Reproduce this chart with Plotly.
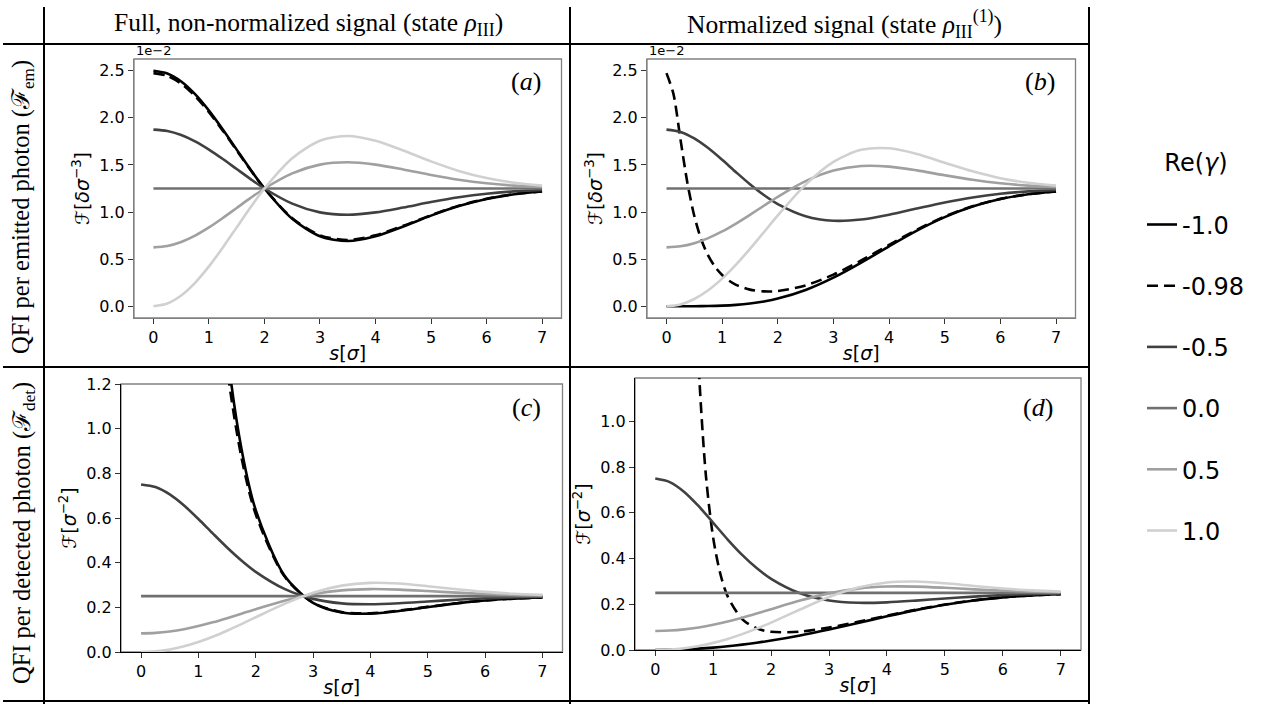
import plotly.graph_objects as go

# ---------------- data ----------------
S = [0, 0.25, 0.5, 0.75, 1, 1.25, 1.5, 1.75, 2, 2.5, 3, 3.5, 4, 4.5, 5, 5.5, 6, 6.5, 7]
S_FINE = [0, 0.125, 0.25, 0.375, 0.5, 0.625, 0.75, 0.875, 1, 1.125, 1.25, 1.5, 1.75, 2,
          2.5, 3, 3.5, 4, 4.5, 5, 5.5, 6, 6.5, 7]

GAMMA_LABELS = ["-1.0", "-0.98", "-0.5", "0.0", "0.5", "1.0"]

# (a) full signal, per emitted photon  [units of 1e-2]
A_m100 = [2.5, 2.4709, 2.3858, 2.2513, 2.0773, 1.8766, 1.6628, 1.4498, 1.25, 0.9281, 0.7427,
          0.6924, 0.7425, 0.8460, 0.9617, 1.0630, 1.1389, 1.1892, 1.2192]
A_m098 = [2.475, 2.4465, 2.3631, 2.2313, 2.0608, 1.8640, 1.6545, 1.4458, 1.25, 0.9345, 0.7529,
          0.7036, 0.7526, 0.8541, 0.9674, 1.0668, 1.1411, 1.1904, 1.2199]
A_m050 = [1.875, 1.8604, 1.8179, 1.7506, 1.6637, 1.5633, 1.4564, 1.3499, 1.25, 1.0890, 0.9964,
          0.9712, 0.9962, 1.0480, 1.1058, 1.1565, 1.1945, 1.2196, 1.2346]
A_000 = [1.25, 1.25, 1.25, 1.25, 1.25, 1.25, 1.25, 1.25, 1.25, 1.25, 1.25, 1.25, 1.25, 1.25,
         1.25, 1.25, 1.25, 1.25, 1.25]
A_p050 = [0.625, 0.6396, 0.6821, 0.7494, 0.8363, 0.9367, 1.0436, 1.1501, 1.25, 1.4110, 1.5036,
          1.5288, 1.5038, 1.4520, 1.3942, 1.3435, 1.3055, 1.2804, 1.2654]
A_p100 = [0.0, 0.0291, 0.1142, 0.2487, 0.4227, 0.6234, 0.8372, 1.0502, 1.25, 1.5719, 1.7573,
          1.8076, 1.7575, 1.6540, 1.5383, 1.4370, 1.3611, 1.3108, 1.2808]

# (b) normalized signal, per emitted photon  [units of 1e-2]
B_m100 = [0.0, 0.0000, 0.0004, 0.0020, 0.0061, 0.0144, 0.0287, 0.0505, 0.0813, 0.1730, 0.3038,
          0.4640, 0.6366, 0.8025, 0.9459, 1.0580, 1.1375, 1.1889, 1.2192]
B_m098 = [2.475, 2.2547, 1.7780, 1.3123, 0.9576, 0.7086, 0.5364, 0.4162, 0.3314, 0.2708, 0.2274,
          0.1762, 0.1572, 0.1611, 0.2214, 0.3353, 0.4854, 0.6512, 0.8123, 0.9523, 1.0619,
          1.1398, 1.1901, 1.2198]
B_m050 = [1.875, 1.8509, 1.7823, 1.6791, 1.5548, 1.4230, 1.2955, 1.1811, 1.0850, 0.9563, 0.9079,
          0.9210, 0.9717, 1.0376, 1.1020, 1.1553, 1.1941, 1.2195, 1.2346]
B_000 = [1.25, 1.25, 1.25, 1.25, 1.25, 1.25, 1.25, 1.25, 1.25, 1.25, 1.25, 1.25, 1.25, 1.25,
         1.25, 1.25, 1.25, 1.25, 1.25]
B_p050 = [0.625, 0.6363, 0.6697, 0.7233, 0.7941, 0.8782, 0.9709, 1.0671, 1.1618, 1.3277, 1.4399,
          1.4884, 1.4823, 1.4424, 1.3905, 1.3423, 1.3052, 1.2803, 1.2654]
B_p100 = [0.0, 0.0195, 0.0769, 0.1697, 0.2934, 0.4422, 0.6089, 0.7856, 0.9638, 1.2911, 1.5335,
          1.6604, 1.6768, 1.6169, 1.5239, 1.4322, 1.3597, 1.3105, 1.2807]

# (c) full signal, per detected photon
C_m100 = [None, None, None, None, None, 2.1154, 1.3565, 0.9116, 0.6354, 0.3424, 0.2200, 0.1767,
          0.1717, 0.1838, 0.2012, 0.2176, 0.2303, 0.2391, 0.2444]
C_m098 = [None, None, None, None, None, 1.9229, 1.2715, 0.8718, 0.6164, 0.3390, 0.2208, 0.1786,
          0.1735, 0.1853, 0.2022, 0.2182, 0.2307, 0.2393, 0.2445]
C_m050 = [0.75, 0.7384, 0.7055, 0.6557, 0.5955, 0.5311, 0.4679, 0.4097, 0.3588, 0.2825, 0.2379,
          0.2178, 0.2137, 0.2183, 0.2261, 0.2340, 0.2402, 0.2445, 0.2472]
C_000 = [0.25, 0.25, 0.25, 0.25, 0.25, 0.25, 0.25, 0.25, 0.25, 0.25, 0.25, 0.25, 0.25, 0.25,
         0.25, 0.25, 0.25, 0.25, 0.25]
C_p050 = [0.0833, 0.0855, 0.0919, 0.1022, 0.1161, 0.1327, 0.1515, 0.1715, 0.1918, 0.2296, 0.2587,
          0.2759, 0.2817, 0.2793, 0.2728, 0.2657, 0.2596, 0.2556, 0.2528]
C_p100 = [0.0, 0.0029, 0.0116, 0.0257, 0.0449, 0.0684, 0.0954, 0.1249, 0.1556, 0.2157, 0.2653,
          0.2972, 0.3096, 0.3064, 0.2947, 0.2810, 0.2692, 0.2608, 0.2556]

# (d) normalized signal, per detected photon
D_m100 = [0.0, 0.0007, 0.0026, 0.0059, 0.0104, 0.0163, 0.0234, 0.0317, 0.0413, 0.0638, 0.0900,
          0.1184, 0.1472, 0.1744, 0.1979, 0.2165, 0.2301, 0.2390, 0.2444]
D_m098 = [None, None, None, None, None, 2.1246, 1.2397, 0.7606, 0.4904, 0.3314, 0.2346, 0.1354,
          0.0948, 0.0795, 0.0803, 0.0984, 0.1232, 0.1502, 0.1762, 0.1990, 0.2172, 0.2305,
          0.2392, 0.2445]
D_m050 = [0.75, 0.7346, 0.6916, 0.6290, 0.5565, 0.4834, 0.4162, 0.3584, 0.3115, 0.2480, 0.2168,
          0.2065, 0.2084, 0.2161, 0.2253, 0.2337, 0.2402, 0.2445, 0.2472]
D_000 = [0.25, 0.25, 0.25, 0.25, 0.25, 0.25, 0.25, 0.25, 0.25, 0.25, 0.25, 0.25, 0.25, 0.25,
         0.25, 0.25, 0.25, 0.25, 0.25]
D_p050 = [0.0833, 0.0851, 0.0902, 0.0987, 0.1102, 0.1245, 0.1410, 0.1592, 0.1783, 0.2161, 0.2478,
          0.2686, 0.2777, 0.2774, 0.2721, 0.2654, 0.2596, 0.2554, 0.2528]
D_p100 = [0.0, 0.0020, 0.0078, 0.0176, 0.0312, 0.0485, 0.0694, 0.0934, 0.1200, 0.1771, 0.2315,
          0.2730, 0.2954, 0.2996, 0.2920, 0.2801, 0.2690, 0.2608, 0.2556]

X_TICKS = [0, 1, 2, 3, 4, 5, 6, 7]
Y_TICKS_EM = [0.0, 0.5, 1.0, 1.5, 2.0, 2.5]
Y_TICKS_C = [0.0, 0.2, 0.4, 0.6, 0.8, 1.0, 1.2]
Y_TICKS_D = [0.0, 0.2, 0.4, 0.6, 0.8, 1.0]

# ---------------- styling ----------------
W, H = 1262, 704
COLORS = ["#000000", "#000000", "#404040", "#707070", "#a0a0a0", "#d0d0d0"]
DASHES = ["solid", "11px,6px", "solid", "solid", "solid", "solid"]
LW = 2.6
SANS = "DejaVu Sans"
SERIF = "Liberation Serif"
SPINE_GRAY = "#808080"


def px_x(p):
    return p / W


def px_y(p):
    return 1 - p / H


panels = [
    ("a", (134, 561.5), (59, 318), [A_m100, A_m098, A_m050, A_000, A_p050, A_p100],
     [S, S, S, S, S, S], [-0.125, 2.625], Y_TICKS_EM, "(<i>a</i>)", (526, 82),
     "ℱ[<i>δσ</i><sup>−3</sup>]"),
    ("b", (647, 1075.5), (59, 318), [B_m100, B_m098, B_m050, B_000, B_p050, B_p100],
     [S, S_FINE, S, S, S, S], [-0.125, 2.625], Y_TICKS_EM, "(<i>b</i>)", (1040, 82),
     "ℱ[<i>δσ</i><sup>−3</sup>]"),
    ("c", (121, 562.5), (384, 652), [C_m100, C_m098, C_m050, C_000, C_p050, C_p100],
     [S, S, S, S, S, S], [0, 1.2], Y_TICKS_C, "(<i>c</i>)", (526, 407),
     "ℱ[<i>σ</i><sup>−2</sup>]"),
    ("d", (635, 1081), (378, 650), [D_m100, D_m098, D_m050, D_000, D_p050, D_p100],
     [S, S_FINE, S, S, S, S], [0, 1.19], Y_TICKS_D, "(<i>d</i>)", (1038, 407),
     "ℱ[<i>σ</i><sup>−2</sup>]"),
]

fig = go.Figure()
layout = dict(
    width=W, height=H, autosize=False,
    margin=dict(l=0, r=0, t=0, b=0, pad=0),
    paper_bgcolor="white", plot_bgcolor="white",
    font=dict(family=SANS, size=16, color="black"),
    showlegend=True,
)
shapes = []
annotations = []


def ann(text, x, y, size, family=SERIF, angle=0, xanchor="center", yanchor="middle"):
    return dict(text=text, x=px_x(x), y=px_y(y), xref="paper", yref="paper",
                showarrow=False, xanchor=xanchor, yanchor=yanchor, textangle=angle,
                font=dict(family=family, size=size, color="black"))


for i, (name, xd, yd, series, sarr, yr, yt, lab, labpos, ytitle) in enumerate(panels):
    k = "" if i == 0 else str(i + 1)
    xa, ya = "x" + k, "y" + k
    for j, (vals, xs) in enumerate(zip(series, sarr)):
        fig.add_trace(go.Scatter(
            x=xs, y=vals, xaxis=xa, yaxis=ya, mode="lines",
            line=dict(color=COLORS[j], width=LW, dash=DASHES[j], shape="spline", smoothing=0.8),
            name=GAMMA_LABELS[j], legendgroup="g%d" % j, showlegend=(i == 0),
            connectgaps=False, hoverinfo="skip",
        ))
    bottom_color = SPINE_GRAY if name in ("a", "b") else "black"
    layout["xaxis" + k] = dict(
        domain=[px_x(xd[0]), px_x(xd[1])], anchor=ya, range=[-0.35, 7.35],
        tickmode="array", tickvals=X_TICKS, ticktext=[str(t) for t in X_TICKS],
        ticks="outside", ticklen=5, tickwidth=1, tickcolor="#333333",
        showline=True, linecolor=bottom_color, linewidth=1.3, mirror=False,
        showgrid=False, zeroline=False, automargin=False,
        tickfont=dict(family=SANS, size=16),
        title=dict(text="<i>s</i>[<i>σ</i>]", font=dict(family=SANS, size=19), standoff=0),
    )
    layout["yaxis" + k] = dict(
        domain=[px_y(yd[1]), px_y(yd[0])], anchor=xa, range=yr,
        tickmode="array", tickvals=yt, ticktext=["%.1f" % t for t in yt],
        ticks="outside", ticklen=5, tickwidth=1, tickcolor="#333333",
        showline=True, linecolor=bottom_color, linewidth=1.3, mirror=False,
        showgrid=False, zeroline=False, automargin=False,
        tickfont=dict(family=SANS, size=16),
        title=dict(text=ytitle, font=dict(family=SANS, size=19), standoff=4),
    )
    shapes.append(dict(type="rect", xref="paper", yref="paper",
                       x0=px_x(xd[0]), x1=px_x(xd[1]), y0=px_y(yd[1]), y1=px_y(yd[0]),
                       line=dict(color=SPINE_GRAY, width=1.3), layer="below"))
    annotations.append(ann(lab, labpos[0], labpos[1], 26))
    if name in ("a", "b"):
        annotations.append(ann("1e−2", xd[0], yd[0] + 1, 13, family=SANS,
                               xanchor="left", yanchor="bottom"))

# table lines
LINE = dict(color="black", width=2)
for xv in (44, 570, 1089):
    shapes.append(dict(type="line", xref="paper", yref="paper", x0=px_x(xv), x1=px_x(xv),
                       y0=px_y(7), y1=px_y(704), line=LINE))
for yv in (44, 367, 701):
    shapes.append(dict(type="line", xref="paper", yref="paper", x0=px_x(3), x1=px_x(1089),
                       y0=px_y(yv), y1=px_y(yv), line=LINE))

# headers and row labels
annotations.append(ann("Full, non-normalized signal (state <i>ρ</i><sub>III</sub>)", 308, 24, 25.5))
annotations.append(ann("Normalized signal (state <i>ρ</i><sub>III</sub><sup>(1)</sup>)", 845, 24, 25.5))
annotations.append(ann("QFI per emitted photon (ℱ<sub>em</sub>)", 23, 207, 24.5, angle=-90))
annotations.append(ann("QFI per detected photon (ℱ<sub>det</sub>)", 23, 533, 24.5, angle=-90))

layout["shapes"] = shapes
layout["annotations"] = annotations
layout["legend"] = dict(
    x=px_x(1142), y=px_y(140), xanchor="left", yanchor="top",
    title=dict(text="Re(<i>γ</i>)<br> ", side="top center", font=dict(family=SANS, size=24)),
    font=dict(family=SANS, size=24, color="black"),
    tracegroupgap=27, bgcolor="rgba(0,0,0,0)", borderwidth=0,
)
fig.update_layout(**layout)
fig.write_html("out.html", config={"displayModeBar": False},
               post_script="document.body.style.margin='0px';")
